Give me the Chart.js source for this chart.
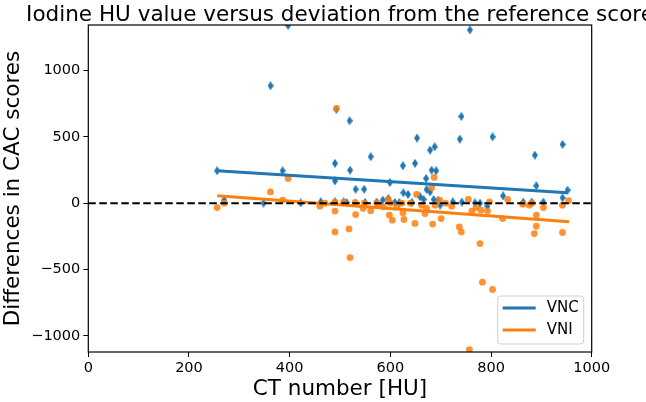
<!DOCTYPE html>
<html>
<head>
<meta charset="utf-8">
<script src="https://cdn.jsdelivr.net/npm/chart.js@4.4.0/dist/chart.umd.min.js"></script>
<style>
  html, body { margin: 0; padding: 0; background: #fff; }
</style>
</head>
<body>
<canvas id="cacChart" width="646" height="402"></canvas>
<script>
// CT number [HU] and score differences
const vncX = [256, 270, 348, 362, 386, 397, 422, 462, 490, 490, 490, 493, 507, 513, 519, 520, 531, 548, 550, 561,
  573, 585, 596, 599, 609, 618, 625, 626, 635, 643, 649, 653, 659, 666, 671, 672, 679, 679, 682, 686,
  688, 691, 695, 699, 724, 738, 741, 742, 758, 768, 778, 793, 803, 824, 864, 881, 887, 890, 904, 942,
  942, 952];
const vncY = [244, 23, 0, 885, 244, 1340, 2, 10, 300, 168, 10, 707, 10, 5, 621, 249, 105, 105, 5, 350,
  8, 23, 35, 156, 5, 5, 282, 78, 66, 5, 300, 491, 48, 28, 186, 103, 400, 85, 249, 28,
  425, 244, 23, -15, 10, 483, 654, 8, 1306, 2, 0, -23, 500, 55, 8, 8, 362, 131, 8, 443,
  40, 98];

const vniX = [256, 270, 362, 386, 397, 460, 470, 490, 490, 490, 493, 507, 518, 520, 530, 531, 546, 548, 561, 573,
  576, 586, 596, 598, 600, 604, 613, 623, 625, 627, 640, 649, 652, 662, 669, 672, 682, 684, 687, 689,
  698, 701, 710, 722, 737, 741, 755, 757, 762, 770, 778, 780, 783, 793, 797, 803, 823, 833, 863, 876,
  881, 886, 890, 890, 904, 942, 942, 954];
const vniY = [-33, 0, 85, 23, 186, -23, 0, -60, -217, 10, 715, 5, -194, -410, 5, -86, -40, 0, -58, 2,
  -15, -28, 28, -90, 0, -128, -23, 0, -73, -123, 0, -153, 66, -15, -78, -40, 116, -158, 194, -15,
  23, -116, 0, -23, -179, -217, 28, -1104, -60, -33, -305, -53, -596, -60, 10, -651, -116, 28, -8, -15,
  0, -229, -90, -174, -33, -15, -221, 18];

// fitted trend lines (end points)
const vncFitX = [256, 952];
const vncFitY = [245, 78];
const vniFitX = [256, 955];
const vniFitY = [55, -140];

const xTicks = [0, 200, 400, 600, 800, 1000];
const yTicks = [-1000, -500, 0, 500, 1000];
const refValue = 0;

const blue = '#1f77b4';
const orange = '#ff7f0e';
const font = "'DejaVu Sans', sans-serif";

const toPoints = (xs, ys) => xs.map((x, i) => ({ x: x, y: ys[i] }));
const fmt = v => (v < 0 ? '\u2212' + Math.abs(v) : String(v));

// thin diamond marker like matplotlib 'd'
const diamond = document.createElement('canvas');
diamond.width = 6;
diamond.height = 9;
const dctx = diamond.getContext('2d');
dctx.fillStyle = blue;
dctx.beginPath();
dctx.moveTo(3, 0);
dctx.lineTo(6, 4.5);
dctx.lineTo(3, 9);
dctx.lineTo(0, 4.5);
dctx.closePath();
dctx.fill();

const extras = {
  id: 'extras',
  afterDatasetsDraw(chart) {
    const { ctx, chartArea: a } = chart;
    ctx.save();
    ctx.strokeStyle = '#000';
    ctx.lineWidth = 1.2;
    ctx.strokeRect(a.left, a.top, a.right - a.left, a.bottom - a.top);
    ctx.restore();
  },
  afterDraw(chart) {
    const { ctx, chartArea: a } = chart;
    ctx.save();
    // title, centred on the plot area (runs off the right edge like the original)
    ctx.fillStyle = '#000';
    ctx.font = '21.5px ' + font;
    ctx.textAlign = 'center';
    ctx.textBaseline = 'alphabetic';
    ctx.fillText('Iodine HU value versus deviation from the reference score', (a.left + a.right) / 2, 20.5);

    // legend in lower right corner
    const w = 86, h = 48;
    const lx = a.right - 8 - w, ly = a.bottom - 8 - h;
    ctx.beginPath();
    ctx.roundRect(lx, ly, w, h, 3);
    ctx.fillStyle = 'rgba(255,255,255,0.8)';
    ctx.fill();
    ctx.strokeStyle = '#d0d0d0';
    ctx.lineWidth = 1;
    ctx.stroke();
    const items = [['VNC', blue], ['VNI', orange]];
    ctx.font = '15px ' + font;
    ctx.textAlign = 'left';
    ctx.textBaseline = 'middle';
    items.forEach((it, i) => {
      const y = ly + 12 + i * 22;
      ctx.strokeStyle = it[1];
      ctx.lineWidth = 3;
      ctx.beginPath();
      ctx.moveTo(lx + 5, y);
      ctx.lineTo(lx + 38, y);
      ctx.stroke();
      ctx.fillStyle = '#000';
      ctx.fillText(it[0], lx + 49, y);
    });
    ctx.restore();
  }
};

new Chart(document.getElementById('cacChart'), {
  type: 'scatter',
  data: {
    datasets: [
      {
        label: 'VNC',
        data: toPoints(vncX, vncY),
        pointStyle: diamond,
        pointRadius: 4,
        order: 5
      },
      {
        label: 'VNI',
        data: toPoints(vniX, vniY),
        backgroundColor: 'rgba(255,127,14,0.85)',
        borderWidth: 0,
        pointRadius: 3.4,
        order: 4
      },
      {
        type: 'line',
        label: 'VNC fit',
        data: toPoints(vncFitX, vncFitY),
        borderColor: blue,
        borderWidth: 3,
        pointRadius: 0,
        order: 3
      },
      {
        type: 'line',
        label: 'VNI fit',
        data: toPoints(vniFitX, vniFitY),
        borderColor: orange,
        borderWidth: 3,
        pointRadius: 0,
        order: 2
      },
      {
        type: 'line',
        label: 'reference',
        data: toPoints([xTicks[0], xTicks[xTicks.length - 1]], [refValue, refValue]),
        borderColor: '#000',
        borderWidth: 2,
        borderDash: [7.5, 3.5],
        pointRadius: 0,
        order: 1
      }
    ]
  },
  options: {
    responsive: false,
    animation: false,
    layout: { padding: { top: 25, right: 54.3, left: 0, bottom: 0 } },
    plugins: {
      legend: { display: false },
      tooltip: { enabled: false }
    },
    scales: {
      x: {
        type: 'linear',
        min: 0,
        max: 1000,
        afterBuildTicks: s => { s.ticks = xTicks.map(v => ({ value: v })); },
        afterFit: s => { s.height = 50; },
        border: { display: false },
        grid: { drawOnChartArea: false, drawTicks: true, tickLength: 5, color: '#000' },
        ticks: { color: '#000', padding: 3, maxRotation: 0, font: { family: font, size: 14.5 }, callback: fmt },
        title: { display: true, text: 'CT number [HU]', color: '#000', padding: 0, font: { family: font, size: 21.5 } }
      },
      y: {
        type: 'linear',
        min: -1122,
        max: 1343,
        afterBuildTicks: s => { s.ticks = yTicks.map(v => ({ value: v })); },
        afterFit: s => { s.width = 88.3; },
        border: { display: false },
        grid: { drawOnChartArea: false, drawTicks: true, tickLength: 5, color: '#000' },
        ticks: { color: '#000', padding: 3, font: { family: font, size: 14.5 }, callback: fmt },
        title: { display: true, text: 'Differences in CAC scores', color: '#000', padding: 1, font: { family: font, size: 21.5 } }
      }
    }
  },
  plugins: [extras]
});
</script>
</body>
</html>
